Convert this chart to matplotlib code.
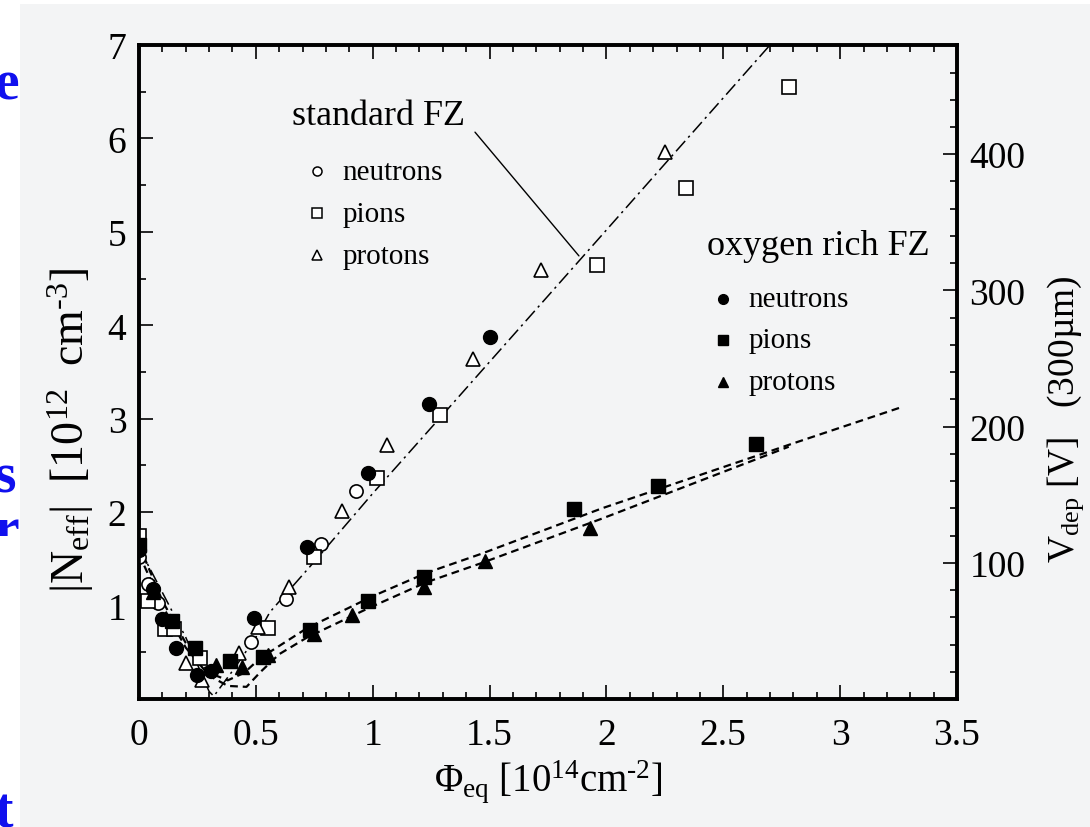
import matplotlib
matplotlib.use("Agg")
import matplotlib.pyplot as plt
from matplotlib.patches import Rectangle

plt.rcParams["font.family"] = ["Liberation Serif", "DejaVu Serif"]
plt.rcParams["mathtext.fontset"] = "custom"
plt.rcParams["mathtext.rm"] = "Liberation Serif"
plt.rcParams["mathtext.it"] = "Liberation Serif:italic"

# fluence [1e14 cm^-2] and |Neff| [1e12 cm^-3]
std_neutrons_x = [0.00, 0.04, 0.08, 0.48, 0.63, 0.78, 0.93]
std_neutrons_y = [1.52, 1.23, 1.03, 0.61, 1.07, 1.66, 2.23]
std_pions_x = [0.00, 0.04, 0.11, 0.15, 0.26, 0.55, 0.75, 1.02, 1.29, 1.96, 2.34, 2.78]
std_pions_y = [1.75, 1.05, 0.75, 0.75, 0.44, 0.76, 1.52, 2.37, 3.04, 4.65, 5.47, 6.55]
std_protons_x = [0.20, 0.27, 0.43, 0.51, 0.64, 0.87, 1.06, 1.43, 1.72, 2.25]
std_protons_y = [0.38, 0.20, 0.49, 0.77, 1.20, 2.01, 2.72, 3.64, 4.59, 5.86]

oxy_neutrons_x = [0.00, 0.06, 0.10, 0.16, 0.25, 0.31, 0.49, 0.72, 0.98, 1.24, 1.50]
oxy_neutrons_y = [1.60, 1.18, 0.86, 0.55, 0.26, 0.30, 0.87, 1.63, 2.42, 3.16, 3.87]
oxy_pions_x = [0.00, 0.14, 0.24, 0.39, 0.53, 0.73, 0.98, 1.22, 1.86, 2.22, 2.64]
oxy_pions_y = [1.65, 0.84, 0.55, 0.41, 0.45, 0.74, 1.05, 1.31, 2.03, 2.28, 2.73]
oxy_protons_x = [0.06, 0.33, 0.44, 0.55, 0.75, 0.91, 1.22, 1.48, 1.93]
oxy_protons_y = [1.15, 0.36, 0.34, 0.47, 0.70, 0.90, 1.20, 1.48, 1.83]

# fit curves
std_fit_x = [0.00, 0.10, 0.20, 0.30, 0.32, 0.40, 0.50, 0.56, 0.75, 1.00, 1.32, 2.00, 2.70]
std_fit_y = [1.62, 1.14, 0.66, 0.08, 0.03, 0.30, 0.66, 0.93, 1.47, 2.20, 3.10, 5.02, 7.00]
oxy_fit1_x = [0.00, 0.10, 0.20, 0.30, 0.38, 0.45, 0.52, 0.72, 1.00, 1.23, 1.46, 1.98, 2.78, 3.27]
oxy_fit1_y = [1.65, 1.05, 0.60, 0.28, 0.20, 0.28, 0.44, 0.76, 1.10, 1.35, 1.55, 2.04, 2.72, 3.13]
oxy_fit2_x = [0.00, 0.10, 0.20, 0.30, 0.38, 0.46, 0.52, 0.60, 0.72, 0.98, 1.23, 1.46, 1.98, 2.78]
oxy_fit2_y = [1.55, 1.00, 0.55, 0.25, 0.14, 0.13, 0.29, 0.48, 0.66, 0.97, 1.25, 1.45, 1.93, 2.70]

x_ticks = [0, 0.5, 1, 1.5, 2, 2.5, 3, 3.5]
x_tick_labels = ["0", "0.5", "1", "1.5", "2", "2.5", "3", "3.5"]
y_ticks = [1, 2, 3, 4, 5, 6, 7]
v_ticks = [100, 200, 300, 400]
volt_per_unit = 68.6  # V per 1e12 cm^-3 for 300 um

bg = "#f3f4f5"

fig = plt.figure(figsize=(10.9, 8.28), dpi=100)
fig.patch.set_facecolor("white")
fig.add_artist(Rectangle((20 / 1090, 0), 1, 1 - 5 / 828, transform=fig.transFigure,
                         facecolor=bg, edgecolor="none", zorder=-5))

# clipped slide text at the left edge
blue = "#1010ee"
for s, yy in [("e", 0.880), ("s", 0.405), ("r", 0.341), ("t", 0.0)]:
    fig.text(-6 / 1090, yy, s, color=blue, fontsize=40, fontweight="bold", ha="left", va="baseline",
             zorder=1)
# only the top of the "r" shows in the reference
fig.add_artist(Rectangle((0, 0.32), 20 / 1090, 0.031, transform=fig.transFigure,
                         facecolor="white", edgecolor="none", zorder=2))

ax = fig.add_axes([139 / 1090, 1 - 700 / 828, 818 / 1090, 654 / 828])
ax.set_facecolor(bg)

ax.plot(std_fit_x, std_fit_y, color="black", lw=1.1, ls=(0, (9, 3, 1.5, 3)), zorder=2)
ax.plot(oxy_fit1_x, oxy_fit1_y, color="black", lw=1.6, ls=(0, (3.5, 2.2)), zorder=2)
ax.plot(oxy_fit2_x, oxy_fit2_y, color="black", lw=1.6, ls=(0, (3.5, 2.2)), zorder=2)

open_kw = dict(ls="none", mfc="white", mec="black", mew=1.2, zorder=3)
fill_kw = dict(ls="none", mfc="black", mec="black", zorder=4)
ax.plot(std_neutrons_x, std_neutrons_y, "o", ms=9.5, **open_kw)
ax.plot(std_pions_x, std_pions_y, "s", ms=9.5, **open_kw)
ax.plot(std_protons_x, std_protons_y, "^", ms=10, **open_kw)
ax.plot(oxy_neutrons_x, oxy_neutrons_y, "o", ms=10, **fill_kw)
ax.plot(oxy_pions_x, oxy_pions_y, "s", ms=10, **fill_kw)
ax.plot(oxy_protons_x, oxy_protons_y, "^", ms=10.5, **fill_kw)

ax.set_xlim(0, 3.5)
ax.set_ylim(0, 7)
ax.set_xticks(x_ticks)
ax.set_xticklabels(x_tick_labels)
ax.set_xticks([i / 10 for i in range(36)], minor=True)
ax.set_yticks(y_ticks)
ax.set_yticks([i / 2 for i in range(15)], minor=True)
ax.tick_params(which="both", direction="in", top=True, right=False, width=1.2, labelsize=27, pad=9)
ax.tick_params(axis="x", which="both", pad=13)
ax.tick_params(which="major", length=10)
ax.tick_params(which="minor", length=5)
for sp in ax.spines.values():
    sp.set_linewidth(2.6)

ax.set_xlabel(r"$\mathregular{\Phi_{eq}\ [10^{14}cm^{\text{-}2}]}$", fontsize=28, labelpad=4)
ax.set_ylabel(r"$\mathregular{|N_{eff}|\ \ [10^{12}\ \ cm^{\text{-}3}]}$", fontsize=33)
ax.yaxis.set_label_coords(-0.053, 0.413)

ax2 = ax.twinx()
ax2.set_ylim(0, 7 * volt_per_unit)
ax2.set_yticks(v_ticks)
ax2.set_yticks(list(range(20, 480, 20)), minor=True)
ax2.tick_params(which="both", direction="in", width=1.2, labelsize=27, pad=9)
ax2.tick_params(which="major", length=10)
ax2.tick_params(which="minor", length=5)
ax2.set_ylabel(r"$\mathregular{V_{dep}\ [V]}$   (300µm)", fontsize=27)
ax2.yaxis.set_label_coords(1.108, 0.43)
for sp in ax2.spines.values():
    sp.set_linewidth(2.6)

# legends
ax.text(0.187, 0.879, "standard FZ", transform=ax.transAxes, fontsize=26, va="baseline")
ax.annotate("", xy=(1.89, 4.72), xytext=(1.43, 6.09),
            arrowprops=dict(arrowstyle="-", lw=1.0, color="black"))
std_rows = [("o", "neutrons"), ("s", "pions"), ("^", "protons")]
for i, (m, lab) in enumerate(std_rows):
    ym = 0.807 - i * 0.064
    ax.plot([0.2176], [ym], m, ms=6.5, mfc="white", mec="black", mew=1.1, transform=ax.transAxes)
    ax.text(0.249, ym - 0.012, lab, transform=ax.transAxes, fontsize=21, va="baseline")

ax.text(0.694, 0.680, "oxygen rich FZ", transform=ax.transAxes, fontsize=26, va="baseline")
for i, (m, lab) in enumerate(std_rows):
    ym = 0.612 - i * 0.0635
    ax.plot([0.714], [ym], m, ms=7, mfc="black", mec="black", transform=ax.transAxes)
    ax.text(0.745, ym - 0.011, lab, transform=ax.transAxes, fontsize=21, va="baseline")

fig.savefig("out.png", dpi=100, facecolor=fig.get_facecolor())
